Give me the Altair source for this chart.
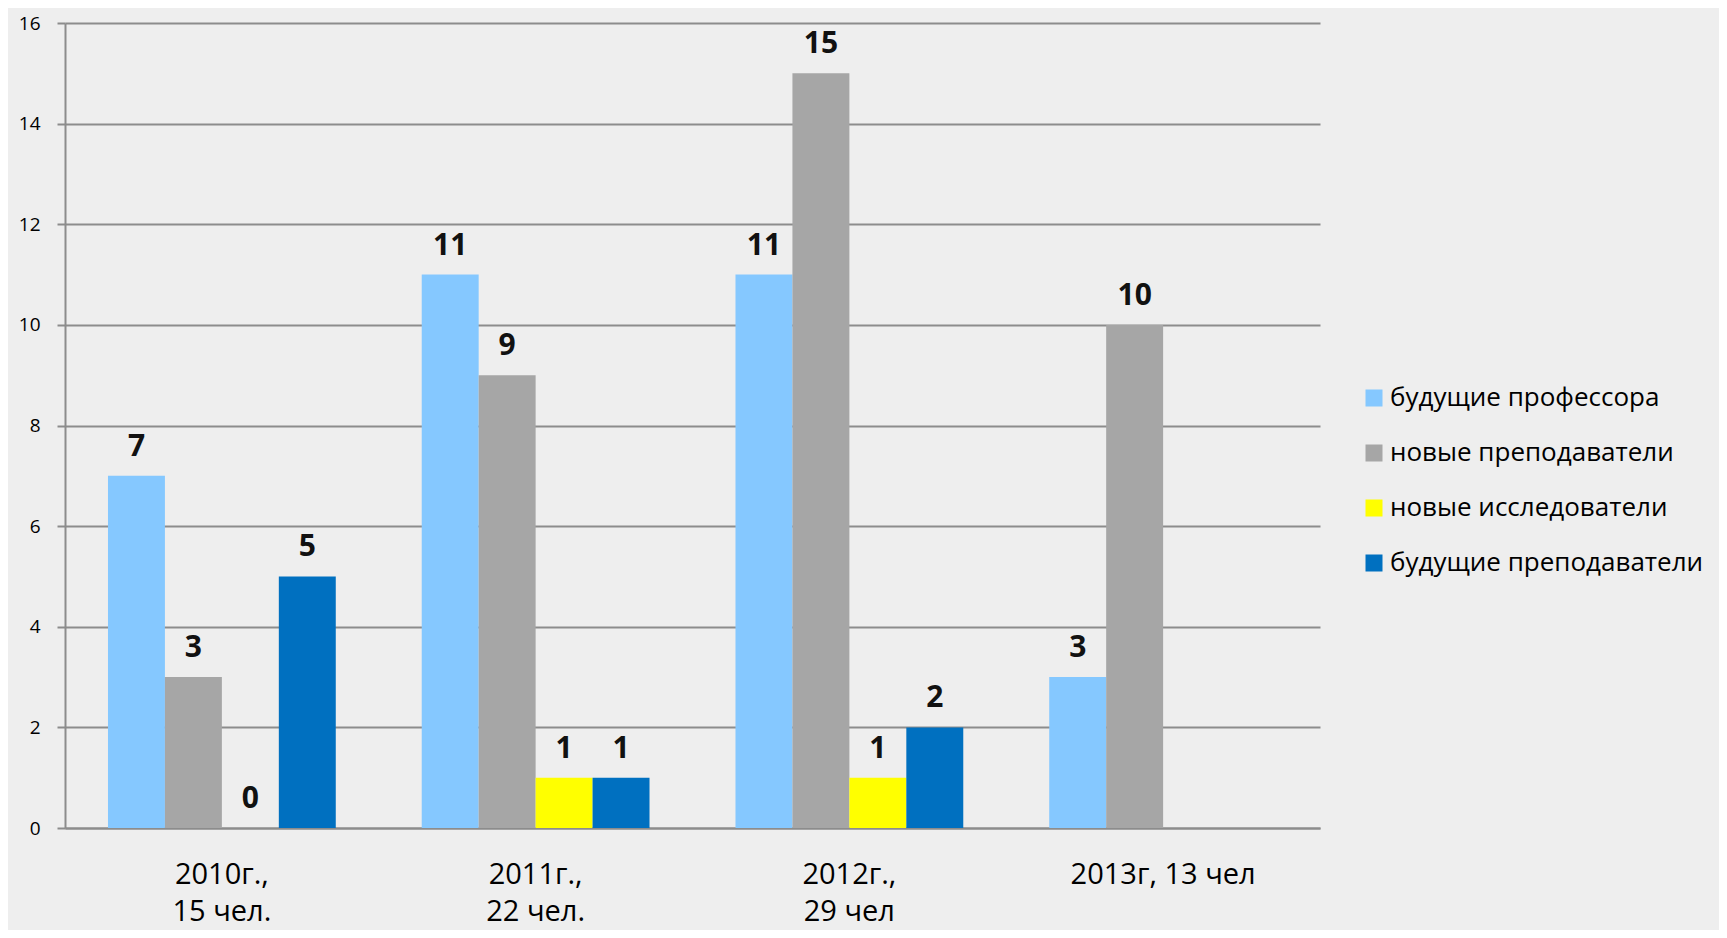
import altair as alt
import pandas as pd

categories = ["2010г.,\n15 чел.", "2011г.,\n22 чел.", "2012г.,\n29 чел", "2013г, 13 чел"]
series = ["будущие профессора", "новые преподаватели", "новые исследователи", "будущие преподаватели"]
colors = ["#85C8FF", "#A6A6A6", "#FFFF00", "#0070C0"]

future_professors = [7, 11, 11, 3]
new_teachers = [3, 9, 15, 10]
new_researchers = [0, 1, 1, None]
future_teachers = [5, 1, 2, None]

y_ticks = [0, 2, 4, 6, 8, 10, 12, 14, 16]

rows = []
for s, vals in zip(series, [future_professors, new_teachers, new_researchers, future_teachers]):
    for c, v in zip(categories, vals):
        if v is not None:
            rows.append({"cat": c, "series": s, "value": v})
df = pd.DataFrame(rows)

FONT = "Open Sans"
GRID = "#8c8c8c"

x_enc = alt.X(
    "cat:N",
    sort=categories,
    scale=alt.Scale(paddingInner=0.274, paddingOuter=0.137),
    axis=alt.Axis(
        title=None,
        labelAngle=0,
        ticks=False,
        labelExpr="split(datum.label, '\\n')",
        labelFont=FONT,
        labelFontSize=29,
        labelColor="#000000",
        labelLineHeight=37,
        labelPadding=32,
        labelLimit=0,
        domainColor=GRID,
        domainWidth=2,
        grid=False,
    ),
)
xoff_enc = alt.XOffset(
    "series:N",
    scale=alt.Scale(domain=series, paddingInner=0, paddingOuter=0),
)
y_enc = alt.Y(
    "value:Q",
    scale=alt.Scale(domain=[0, 16], nice=False),
    axis=alt.Axis(
        title=None,
        values=y_ticks,
        grid=True,
        gridColor=GRID,
        gridWidth=2,
        domainColor=GRID,
        domainWidth=2,
        tickColor=GRID,
        tickWidth=2,
        tickSize=8,
        labelFont=FONT,
        labelFontSize=19,
        labelColor="#000000",
        labelPadding=17,
    ),
)

base = alt.Chart(df).encode(x=x_enc, xOffset=xoff_enc)

bars = base.mark_bar().encode(
    y=y_enc,
    color=alt.Color(
        "series:N",
        scale=alt.Scale(domain=series, range=colors),
        legend=alt.Legend(
            title=None,
            orient="none",
            legendX=1296,
            legendY=362,
            symbolType="square",
            symbolSize=289,
            symbolStrokeWidth=0,
            labelFont=FONT,
            labelFontSize=26,
            labelColor="#000000",
            labelOffset=3,
            labelLimit=0,
            rowPadding=29,
            padding=0,
        ),
    ),
)

labels = base.mark_text(
    font=FONT, fontSize=30, fontWeight="bold", color="#111111", baseline="alphabetic", dy=-20
).encode(
    y=alt.Y("value:Q"),
    text=alt.Text("value:Q"),
)

chart = (
    alt.layer(bars, labels)
    .properties(
        width=1255,
        height=805,
        autosize=alt.AutoSizeParams(type="none"),
        padding={"left": 57, "top": 15, "right": 399, "bottom": 102},
        background="#eeeeee",
    )
    .configure_view(stroke=None)
)

chart.save("out.html", embed_options={"renderer": "svg", "actions": False})
